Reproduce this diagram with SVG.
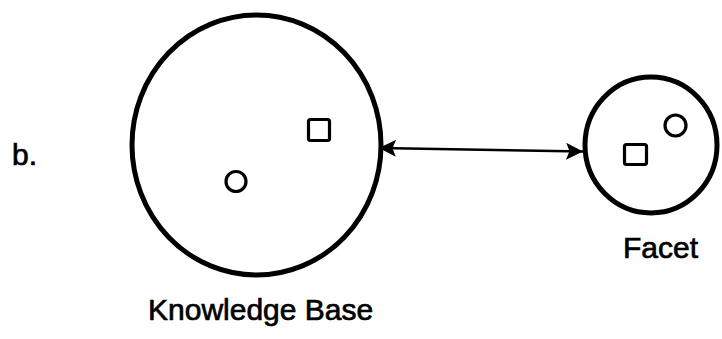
<svg xmlns="http://www.w3.org/2000/svg" width="722" height="339" viewBox="0 0 722 339">
<style>
.ring{fill:none;stroke:#000;stroke-width:5}
.item{fill:none;stroke:#000;stroke-width:3.2}
.lbl{font-family:"Liberation Sans",Arial,sans-serif;font-size:30px;fill:#000;stroke:#000;stroke-width:0.7}
.conn{stroke:#000;stroke-width:2.6;fill:none}
</style>
<defs>
<marker id="ah" viewBox="0 0 10 10" refX="10" refY="5" markerWidth="8.5" markerHeight="6.5" markerUnits="strokeWidth" orient="auto-start-reverse">
<path d="M0,0 L10,5 L0,10 L2,5 Z" fill="#000"/>
</marker>
</defs>
<rect width="722" height="339" fill="#fff"/>
<text class="lbl" x="12" y="165">b.</text>
<g id="knowledge-base">
<ellipse class="ring" cx="256.5" cy="145" rx="124.5" ry="130"/>
<rect class="item" x="308.5" y="119.5" width="21" height="21" rx="2"/>
<circle class="item" cx="236" cy="181.5" r="10"/>
<text class="lbl" x="148" y="320">Knowledge Base</text>
</g>
<g id="facet">
<ellipse class="ring" cx="651" cy="145" rx="66" ry="68"/>
<rect class="item" x="624.5" y="144.5" width="22" height="20" rx="2"/>
<circle class="item" cx="675.5" cy="125.5" r="10.5"/>
<text class="lbl" x="623" y="258">Facet</text>
</g>
<g id="connectors">
<line class="conn" x1="379" y1="148" x2="583" y2="151.5" marker-start="url(#ah)" marker-end="url(#ah)"/>
</g>
</svg>
